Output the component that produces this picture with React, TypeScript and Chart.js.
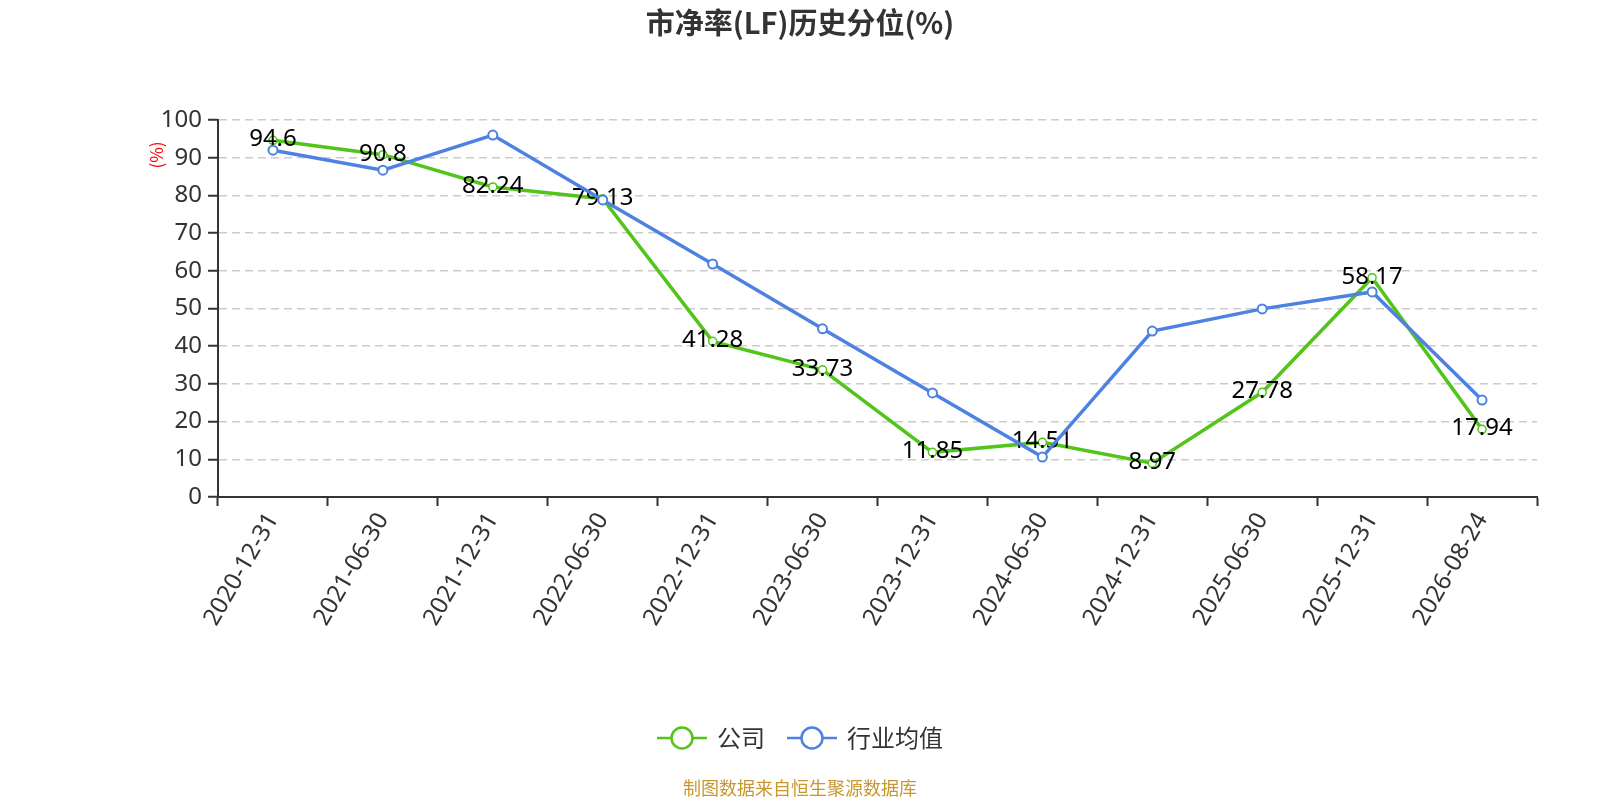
import { useEffect, useRef } from 'react'
import { Chart, registerables } from 'chart.js'

Chart.register(...registerables)

const categories = [
  '2020-12-31', '2021-06-30', '2021-12-31', '2022-06-30', '2022-12-31', '2023-06-30',
  '2023-12-31', '2024-06-30', '2024-12-31', '2025-06-30', '2025-12-31', '2026-08-24',
]
const companyValues = [94.6, 90.8, 82.24, 79.13, 41.28, 33.73, 11.85, 14.51, 8.97, 27.78, 58.17, 17.94]
const industryValues = [92.0, 86.7, 96.0, 78.8, 61.8, 44.6, 27.6, 10.6, 44.0, 49.9, 54.4, 25.7]
const yTicks = [0, 10, 20, 30, 40, 50, 60, 70, 80, 90, 100]

const GREEN = '#52c41a'
const BLUE = '#4e82e2'
const FONT = "'Noto Sans', 'Noto Sans CJK SC', sans-serif"
const CJK = "'Noto Sans CJK SC', 'Noto Sans', sans-serif"

// labels on the company line, drawn before the industry line goes on top
const valueLabels = {
  id: 'valueLabels',
  afterDatasetDraw(chart: Chart, args: any) {
    if (args.index !== 0) return
    const ctx = chart.ctx
    ctx.save()
    ctx.font = `24px ${FONT}`
    ctx.fillStyle = '#000'
    ctx.textAlign = 'center'
    ctx.textBaseline = 'middle'
    args.meta.data.forEach((pt: any, i: number) => {
      ctx.fillText(String(companyValues[i]), pt.x, pt.y - 1)
    })
    ctx.restore()
  },
}

const decorations = {
  id: 'decorations',
  afterDraw(chart: Chart) {
    const ctx = chart.ctx
    const w = chart.width
    ctx.save()
    // title
    ctx.font = `bold 29px ${CJK}`
    ctx.fillStyle = '#333'
    ctx.textAlign = 'center'
    ctx.textBaseline = 'middle'
    ctx.fillText('市净率(LF)历史分位(%)', w / 2, 23)

    // y axis name
    ctx.save()
    ctx.translate(157, 155)
    ctx.rotate(-Math.PI / 2)
    ctx.font = `17px ${CJK}`
    ctx.fillStyle = '#ff0000'
    ctx.fillText('(%)', 0, 0)
    ctx.restore()

    // legend
    const items = [
      { text: '公司', color: GREEN },
      { text: '行业均值', color: BLUE },
    ]
    ctx.font = `24px ${CJK}`
    const lineW = 50
    const gapText = 10
    const gapItem = 22
    const widths = items.map((it) => lineW + gapText + ctx.measureText(it.text).width)
    const total = widths.reduce((a, b) => a + b, 0) + gapItem * (items.length - 1)
    let x = w / 2 - total / 2
    const ly = 738
    items.forEach((it, i) => {
      ctx.strokeStyle = it.color
      ctx.lineWidth = 2.5
      ctx.beginPath()
      ctx.moveTo(x, ly)
      ctx.lineTo(x + lineW, ly)
      ctx.stroke()
      ctx.beginPath()
      ctx.arc(x + lineW / 2, ly, 10.5, 0, Math.PI * 2)
      ctx.fillStyle = '#fff'
      ctx.fill()
      ctx.stroke()
      ctx.fillStyle = '#333'
      ctx.textAlign = 'left'
      ctx.fillText(it.text, x + lineW + gapText, ly)
      x += widths[i] + gapItem
    })

    // source note
    ctx.font = `18px ${CJK}`
    ctx.fillStyle = '#c8972e'
    ctx.textAlign = 'center'
    ctx.fillText('制图数据来自恒生聚源数据库', w / 2, 788)
    ctx.restore()
  },
}

export default function App() {
  const canvasRef = useRef<HTMLCanvasElement>(null)

  useEffect(() => {
    if (!canvasRef.current) return
    const chart = new Chart(canvasRef.current, {
      type: 'line',
      data: {
        labels: categories,
        datasets: [
          {
            label: '公司',
            data: companyValues,
            borderColor: GREEN,
            backgroundColor: '#fff',
            borderWidth: 3.5,
            pointRadius: 4,
            pointBorderWidth: 1.5,
            pointBackgroundColor: '#fff',
            pointBorderColor: GREEN,
            tension: 0,
            order: 1,
          },
          {
            label: '行业均值',
            data: industryValues,
            borderColor: BLUE,
            backgroundColor: '#fff',
            borderWidth: 3.5,
            pointRadius: 4.5,
            pointBorderWidth: 2,
            pointBackgroundColor: '#fff',
            pointBorderColor: BLUE,
            tension: 0,
            order: 0,
          },
        ],
      },
      options: {
        responsive: false,
        animation: false,
        devicePixelRatio: 1,
        layout: { padding: { top: 120, right: 63, left: 0, bottom: 0 } },
        plugins: {
          legend: { display: false },
          title: { display: false },
          tooltip: { enabled: false },
        },
        scales: {
          x: {
            type: 'category',
            offset: true,
            grid: {
              display: true,
              offset: true,
              drawOnChartArea: false,
              drawTicks: true,
              tickLength: 9,
              tickColor: '#333',
              tickWidth: 2,
            },
            border: { display: true, color: '#333', width: 2 },
            ticks: {
              color: '#333',
              font: { size: 24, family: FONT },
              minRotation: 60,
              maxRotation: 60,
              padding: 2,
              autoSkip: false,
            },
            afterFit: (scale: any) => {
              scale.height = 303
            },
          },
          y: {
            min: 0,
            max: 100,
            afterBuildTicks: (scale: any) => {
              scale.ticks = yTicks.map((v) => ({ value: v }))
            },
            grid: {
              color: '#cccccc',
              lineWidth: 1.5,
              tickLength: 10,
              tickColor: '#333',
              tickWidth: 2,
            },
            border: { display: true, color: '#333', width: 2, dash: [8, 5] },
            ticks: {
              color: '#333',
              font: { size: 24, family: FONT },
              padding: 6,
            },
            afterFit: (scale: any) => {
              scale.width = 218
            },
          },
        },
      },
      plugins: [valueLabels, decorations],
    })
    return () => chart.destroy()
  }, [])

  return (
    <div style={{ position: 'fixed', left: 0, top: 0, width: 1600, height: 800, background: '#fff' }}>
      <canvas ref={canvasRef} width={1600} height={800} style={{ display: 'block' }} />
    </div>
  )
}
